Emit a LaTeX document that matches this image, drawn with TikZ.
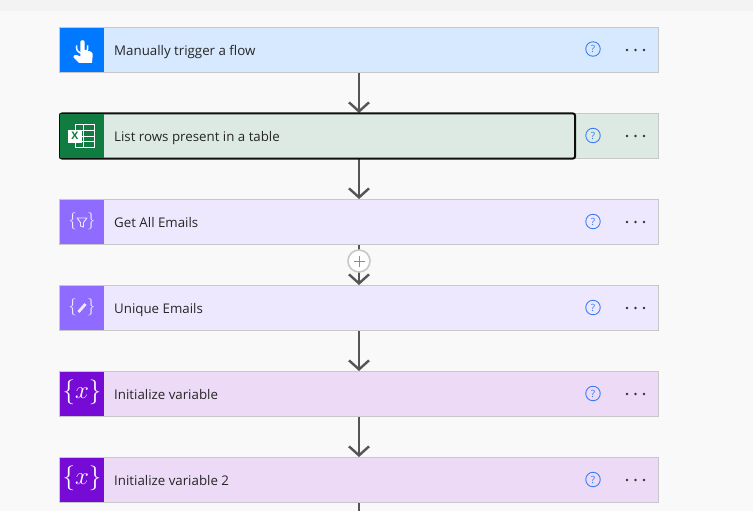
\documentclass[tikz,border=0pt]{standalone}
\usepackage{fontspec}
\setmainfont{Open Sans}
\usetikzlibrary{arrows.meta}
\definecolor{pagebg}{HTML}{F9F9F9}
\definecolor{topband}{HTML}{F3F3F3}
\definecolor{cardline}{HTML}{C8C8C8}
\definecolor{flowline}{HTML}{555555}
\definecolor{helpblue}{HTML}{3B7DF6}
\definecolor{triggerbg}{HTML}{D7E9FE}
\definecolor{triggeric}{HTML}{0078FF}
\definecolor{excelbg}{HTML}{DCEAE3}
\definecolor{excelic}{HTML}{107C41}
\definecolor{composebg}{HTML}{EEE8FE}
\definecolor{composeic}{HTML}{8F6BFF}
\definecolor{varbg}{HTML}{ECDAF7}
\definecolor{varic}{HTML}{770BD6}
\begin{document}
\begin{tikzpicture}[
        x=1pt, y=-1pt,
        card/.style={rectangle, draw=cardline, line width=1pt, minimum width=599pt, minimum height=45pt, inner sep=0pt},
        icon/.style={rectangle, minimum width=44pt, minimum height=44pt, inner sep=0pt, text=white},
        title/.style={anchor=base west, inner sep=0pt, font=\fontsize{13.3}{15}\selectfont, text=black!85},
        help/.style={circle, draw=helpblue, line width=0.9pt, minimum size=14.5pt, inner sep=0pt, text=helpblue, font=\fontsize{10}{10}\selectfont},
        dot/.style={circle, fill=black!80, minimum size=2.6pt, inner sep=0pt},
        edge/.style={-{Straight Barb[length=9pt,width=20pt,line width=2.4pt]}, line width=2.4pt, draw=flowline},
        brace/.style={inner sep=0pt, text=white!85!composeic, font=\fontsize{19}{19}\selectfont},
        bigbrace/.style={inner sep=0pt, text=white, font=\fontsize{23}{23}\selectfont}
      ]
      \fill[pagebg] (0,0) rectangle (753,511);
      \fill[topband] (0,0) rectangle (753,11);
      \useasboundingbox (0,0) rectangle (753,511);
      % cards
      \node[card, fill=triggerbg] (c1) at (359,50) {};
      \node[card, fill=excelbg] (c2) at (359,136) {};
      \node[card, fill=composebg] (c3) at (359,222) {};
      \node[card, fill=composebg] (c4) at (359,308) {};
      \node[card, fill=varbg] (c5) at (359,394) {};
      \node[card, fill=varbg] (c6) at (359,480) {};
      \coordinate (end) at (359,511);
      % connectors
      \draw[edge] (c1) -- (c2);
      \draw[edge] (c2) -- (c3);
      \draw[edge] (c3) -- (c4);
      \draw[edge] (c4) -- (c5);
      \draw[edge] (c5) -- (c6);
      \draw[line width=2.4pt, draw=flowline] (c6) -- (end);
      \node[circle, draw=cardline, fill=white, line width=1.6pt, minimum size=22pt, inner sep=0pt] (add) at (359,261) {};
      \draw[helpblue!85, line width=1pt] (353.5,261) -- (364.5,261) (359,255.5) -- (359,266.5);
      % selected card
      \node[rectangle, draw=black!95, line width=2pt, rounded corners=2pt, minimum width=515pt, minimum height=45pt, inner sep=0pt] (sel) at (317.5,136) {};
      % icons
      \node[icon, fill=triggeric] (i1) at (82,50) {};
      \node[icon, fill=excelic] (i2) at (82,136) {};
      \node[icon, fill=composeic] (i3) at (82,222) {};
      \node[icon, fill=composeic] (i4) at (82,308) {};
      \node[icon, fill=varic] (i5) at (82,394) {};
      \node[icon, fill=varic] (i6) at (82,480) {};
      % hand
      \draw[white, line width=1.5pt] (76.8,45.5) arc (200:-20:5.7);
      \fill[white] (80.3,42) .. controls (80.3,39.6) and (84.7,39.6) .. (84.7,42) -- (84.7,50) -- (90.5,51.5) .. controls (92.5,52.2) and (92.8,53.5) .. (92.7,55) -- (92,63) -- (79,63) -- (73.5,57.5) .. controls (72.5,55) and (76,54) .. (80.3,56.5) -- cycle;
      % excel sheet
      \draw[white, line width=0.9pt] (75,124.5) rectangle (94.5,147.5) (83.3,124.5) -- (83.3,147.5) (82,130.3) -- (94.5,130.3) (82,136) -- (94.5,136) (82,141.7) -- (94.5,141.7);
      \fill[white] (68,129.5) rectangle (82,143);
      \node[inner sep=0pt, text=excelic, font=\fontsize{10.5}{10.5}\selectfont\bfseries] (xl) at (75,136.2) {X};
      % braces
      \node[brace] (b3) at (82,221) {\(\{\hspace{10pt}\}\)};
      \node[brace] (b4) at (82,307) {\(\{\hspace{10pt}\}\)};
      \draw[white!85!composeic, line width=0.9pt, line join=round] (77,218) -- (87,218) -- (83.5,222.5) -- (83.5,227) -- (80.5,226) -- (80.5,222.5) -- cycle;
      \draw[white!85!composeic, line width=2.8pt] (78.5,312) -- (85.5,304);
      \node[bigbrace] (b5) at (82,392.5) {\(\{x\}\)};
      \node[bigbrace] (b6) at (82,478.5) {\(\{x\}\)};
      % titles
      \node[title] (t1) at (114,55.5) {Manually trigger a flow};
      \node[title] (t2) at (114,141.5) {List rows present in a table};
      \node[title] (t3) at (114,227.5) {Get All Emails};
      \node[title] (t4) at (114,313.5) {Unique Emails};
      \node[title] (t5) at (114,399.5) {Initialize variable};
      \node[title] (t6) at (114,485.5) {Initialize variable 2};
      % help marks
      \node[help] (h1) at (593,49) {?};
      \node[help] (h2) at (593,135.5) {?};
      \node[help] (h3) at (593,221.5) {?};
      \node[help] (h4) at (593,307.5) {?};
      \node[help] (h5) at (593,393.5) {?};
      \node[help] (h6) at (593,479.5) {?};
      % more menus
      \node[dot] (m1a) at (627,50) {}; \node[dot] (m1b) at (635.5,50) {}; \node[dot] (m1c) at (644,50) {};
      \node[dot] (m2a) at (627,136) {}; \node[dot] (m2b) at (635.5,136) {}; \node[dot] (m2c) at (644,136) {};
      \node[dot] (m3a) at (627,222) {}; \node[dot] (m3b) at (635.5,222) {}; \node[dot] (m3c) at (644,222) {};
      \node[dot] (m4a) at (627,308) {}; \node[dot] (m4b) at (635.5,308) {}; \node[dot] (m4c) at (644,308) {};
      \node[dot] (m5a) at (627,394) {}; \node[dot] (m5b) at (635.5,394) {}; \node[dot] (m5c) at (644,394) {};
      \node[dot] (m6a) at (627,480) {}; \node[dot] (m6b) at (635.5,480) {}; \node[dot] (m6c) at (644,480) {};
    \end{tikzpicture}
\end{document}
